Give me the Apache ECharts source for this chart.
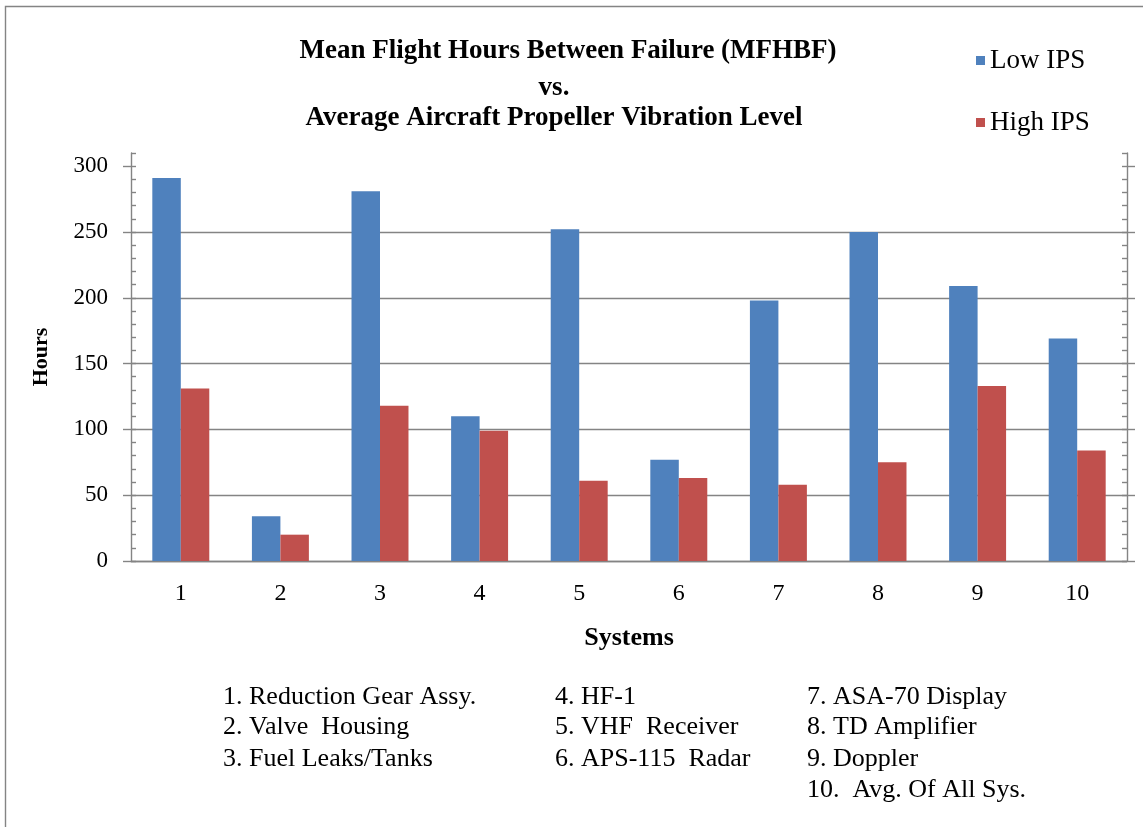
<!DOCTYPE html>
<html>
<head>
<meta charset="utf-8">
<script src="https://cdn.jsdelivr.net/npm/echarts@6/dist/echarts.min.js"></script>
<style>
  html, body { margin: 0; padding: 0; background: #fff; }
  #chart { width: 1143px; height: 827px; }
</style>
</head>
<body>
<div id="chart"></div>
<script>
const systems = ["1", "2", "3", "4", "5", "6", "7", "8", "9", "10"];
const lowIps = [291, 34, 281, 110, 252, 77, 198, 250, 209, 169];
const highIps = [131, 20, 118, 99, 61, 63, 58, 75, 133, 84];
const hourTicks = [0, 50, 100, 150, 200, 250, 300];
const systemNames = [
  "1. Reduction Gear Assy.",
  "2. Valve  Housing",
  "3. Fuel Leaks/Tanks",
  "4. HF-1",
  "5. VHF  Receiver",
  "6. APS-115  Radar",
  "7. ASA-70 Display",
  "8. TD Amplifier",
  "9. Doppler",
  "10.  Avg. Of All Sys."
];

const serif = "Liberation Serif";
const gray = "#848484";

// footnote list, three columns
const colX = [223, 555, 807];
const rowY = [699, 729, 761, 792];
const notes = systemNames.map((name, i) => {
  const col = i < 3 ? 0 : i < 6 ? 1 : 2;
  const row = i - [0, 3, 6][col];
  return {
    type: "text",
    left: colX[col],
    top: rowY[row] - 15,
    style: { text: name, font: "26px '" + serif + "'", fill: "#000" }
  };
});

const chart = echarts.init(document.getElementById("chart"), null, { renderer: "canvas" });

const minorAxis = (pos) => ({
  type: "value",
  position: pos,
  min: 0,
  max: 310,
  interval: 10,
  axisLine: { show: false },
  axisTick: { show: true, inside: true, length: 5, lineStyle: { color: gray, width: 1.4 } },
  axisLabel: { show: false },
  splitLine: { show: false }
});

const titleStyle = { fontFamily: serif, fontWeight: "bold", fontSize: 27, color: "#000" };

chart.setOption({
  animation: false,
  backgroundColor: "#fff",
  title: [
    { text: "Mean Flight Hours Between Failure (MFHBF)", left: 568, top: 38, textAlign: "center", padding: 0,
      textStyle: titleStyle },
    { text: "vs.", left: 554, top: 75, textAlign: "center", padding: 0, textStyle: titleStyle },
    { text: "Average Aircraft Propeller Vibration Level", left: 554, top: 105, textAlign: "center", padding: 0,
      textStyle: titleStyle }
  ],
  legend: {
    orient: "vertical",
    left: 976,
    top: 47,
    padding: 0,
    itemWidth: 9,
    itemHeight: 9,
    itemGap: 35,
    icon: "rect",
    textStyle: { fontFamily: serif, fontSize: 27, color: "#000", lineHeight: 27 },
    data: ["Low IPS", "High IPS"]
  },
  grid: { left: 131, right: 16, top: 153, bottom: 266, containLabel: false },
  xAxis: {
    type: "category",
    data: systems,
    name: "Systems",
    nameLocation: "middle",
    nameGap: 64,
    nameTextStyle: { fontFamily: serif, fontWeight: "bold", fontSize: 26, color: "#000" },
    axisLine: { lineStyle: { color: gray, width: 1.4 } },
    axisTick: { length: 7, lineStyle: { color: gray, width: 1.4 } },
    axisLabel: { fontFamily: serif, fontSize: 24, color: "#000", margin: 21 }
  },
  yAxis: [
    {
      type: "value",
      position: "left",
      min: 0,
      max: 310,
      interval: 50,
      name: "Hours",
      nameLocation: "middle",
      nameGap: 79,
      nameTextStyle: { fontFamily: serif, fontWeight: "bold", fontSize: 22, color: "#000" },
      axisLine: { show: true, lineStyle: { color: gray, width: 1.4 } },
      axisTick: { show: true, length: 8, customValues: hourTicks, lineStyle: { color: gray, width: 1.4 } },
      axisLabel: { fontFamily: serif, fontSize: 23, color: "#000", margin: 23, customValues: hourTicks,
        formatter: (v) => (v > 300 ? "" : v) },
      splitLine: { show: true, showMaxLine: false, lineStyle: { color: gray, width: 1.4 } }
    },
    minorAxis("left"),
    {
      type: "value",
      position: "right",
      min: 0,
      max: 310,
      interval: 50,
      axisLine: { show: true, lineStyle: { color: gray, width: 1.4 } },
      axisTick: { show: true, length: 8, customValues: hourTicks, lineStyle: { color: gray, width: 1.4 } },
      axisLabel: { show: false },
      splitLine: { show: false }
    },
    minorAxis("right")
  ],
  series: [
    { name: "Low IPS", type: "bar", data: lowIps, barWidth: "28.6%", barGap: "0%",
      itemStyle: { color: "#4F81BD" } },
    { name: "High IPS", type: "bar", data: highIps, barWidth: "28.6%", barGap: "0%",
      itemStyle: { color: "#C0504D" } }
  ],
  graphic: [
    { type: "rect", shape: { x: 5.5, y: 6.5, width: 1300, height: 1000 },
      style: { fill: "none", stroke: gray, lineWidth: 1.4 }, silent: true }
  ].concat(notes)
});
</script>
</body>
</html>
